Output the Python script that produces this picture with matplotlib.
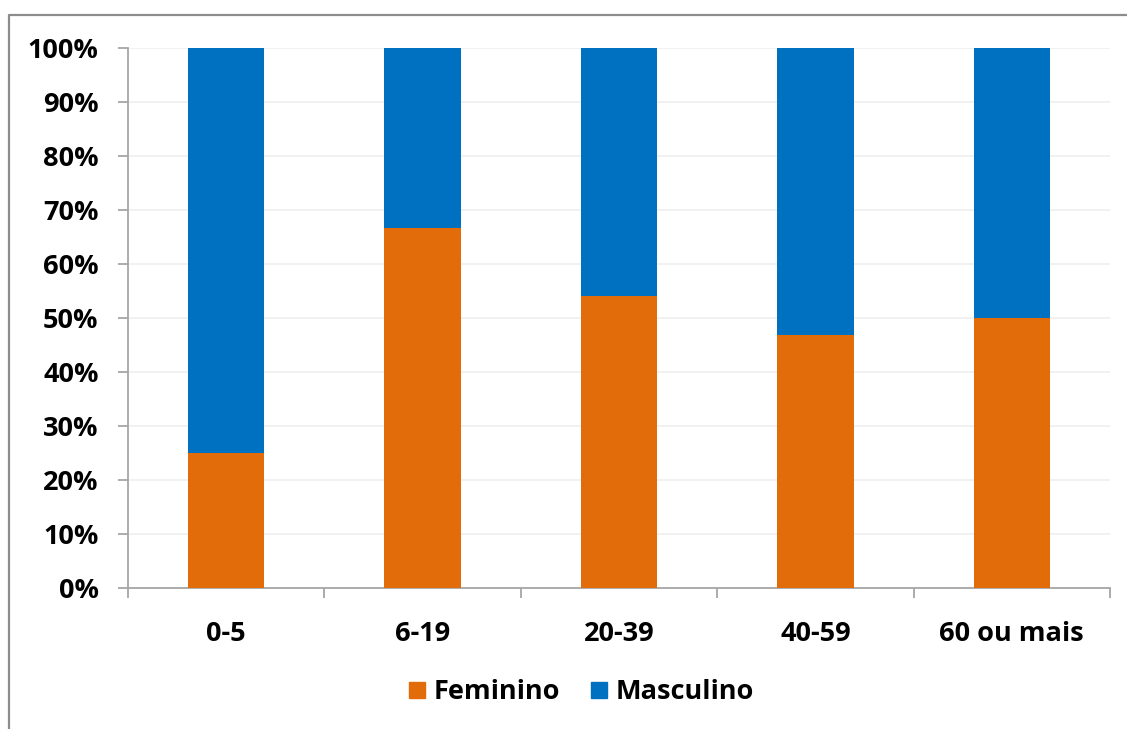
import matplotlib
matplotlib.use("Agg")
import matplotlib.pyplot as plt
from matplotlib.lines import Line2D
from matplotlib.ticker import FixedLocator, PercentFormatter
import numpy as np

categories = ["0-5", "6-19", "20-39", "40-59", "60 ou mais"]
feminino = [25.0, 66.7, 54.1, 46.9, 50.0]
masculino = [100 - v for v in feminino]
yticks = list(range(0, 101, 10))

orange = "#E36C0A"
blue = "#0070C0"
axis_gray = "#A6A6A6"
font = "Open Sans"
fs = 19.5

W, H = 1127, 729
fig = plt.figure(figsize=(W / 100, H / 100), dpi=100)
ax = fig.add_axes([128 / W, 1 - 588 / H, (1110 - 128) / W, (588 - 48) / H])

x = np.arange(len(categories))
ax.bar(x, feminino, width=0.39, color=orange, zorder=3, label="Feminino")
ax.bar(x, masculino, bottom=feminino, width=0.39, color=blue, zorder=3, label="Masculino")

ax.set_xlim(-0.5, len(categories) - 0.5)
ax.set_ylim(0, 100)
ax.set_yticks(yticks)
ax.yaxis.set_major_formatter(PercentFormatter(decimals=0))
ax.grid(axis="y", color="#EFEFEF", linewidth=1.2, zorder=0)

for s in ["top", "right"]:
    ax.spines[s].set_visible(False)
for s in ["left", "bottom"]:
    ax.spines[s].set_color(axis_gray)
    ax.spines[s].set_linewidth(1.3)

ax.set_xticks(x)
ax.set_xticklabels(categories)
ax.xaxis.set_minor_locator(FixedLocator(np.arange(-0.5, len(categories), 1.0)))
ax.tick_params(axis="x", which="major", length=0, pad=24)
ax.tick_params(axis="x", which="minor", length=7.2, width=1.3, color=axis_gray, direction="out")
ax.tick_params(axis="y", length=7.2, width=1.3, color=axis_gray, pad=14)
for lab in ax.get_xticklabels() + ax.get_yticklabels():
    lab.set_fontfamily(font)
    lab.set_fontweight("bold")
    lab.set_fontsize(fs)
    lab.set_color("#000000")

handles = [
    Line2D([], [], marker="s", linestyle="none", markersize=12, color=orange, label="Feminino"),
    Line2D([], [], marker="s", linestyle="none", markersize=12, color=blue, label="Masculino"),
]
fig.legend(handles=handles, loc="center", bbox_to_anchor=(580 / W, 1 - 692 / H),
           ncol=2, frameon=False, handlelength=0.8, handletextpad=0.2, columnspacing=1.05,
           prop={"family": font, "weight": "bold", "size": fs})

# outer chart frame
fig.add_artist(Line2D([9 / W, 9 / W, 1.0], [0.0, 1 - 15 / H, 1 - 15 / H],
                      transform=fig.transFigure, color="#8C8C8C", linewidth=1.6))

fig.savefig("out.png", dpi=100, facecolor="white")
